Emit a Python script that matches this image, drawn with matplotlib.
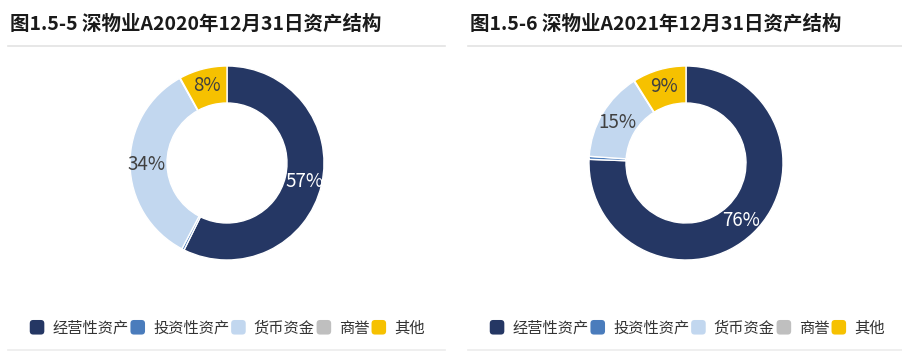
import numpy as np
import matplotlib.pyplot as plt
from matplotlib.patches import FancyBboxPatch
from matplotlib.lines import Line2D
from matplotlib.legend_handler import HandlerPatch

plt.rcParams['font.family'] = ['Noto Sans CJK SC', 'DejaVu Sans']

# data
categories = ['经营性资产', '投资性资产', '货币资金', '商誉', '其他']
colors = ['#253764', '#4a7cbc', '#c2d7ef', '#bfbfbf', '#f6c100']
values_2020 = [57.3, 0.4, 34.2, 0.1, 8.0]
values_2021 = [75.6, 0.5, 14.9, 0.1, 8.9]
titles = ['图1.5-5 深物业A2020年12月31日资产结构', '图1.5-6 深物业A2021年12月31日资产结构']

W, H = 902, 352
fig = plt.figure(figsize=(W / 100, H / 100), dpi=100)

def px_axes(x0, y0, w, h):
    # pixel box (top-left origin) -> figure axes
    return fig.add_axes([x0 / W, 1 - (y0 + h) / H, w / W, h / H])

class RoundBox(HandlerPatch):
    def create_artists(self, legend, orig, xd, yd, width, height, fontsize, trans):
        s = 10.5  # points, ~14px
        p = FancyBboxPatch((-xd + (width - s) / 2, -yd + (height - s) / 2), s, s,
                           boxstyle='round,pad=0,rounding_size=2.5',
                           facecolor=orig.get_facecolor(), edgecolor='none', transform=trans)
        return [p]

panels = [(0, 227, values_2020), (460, 686, values_2021)]

for (px, cx, vals), title in zip(panels, titles):
    ax = px_axes(cx - 100, 163 - 100, 200, 200)
    wedges, _ = ax.pie(vals, colors=colors, startangle=90, counterclock=False,
                       radius=0.97, wedgeprops=dict(width=0.37, edgecolor='white', linewidth=1))
    ax.set_xlim(-1, 1)
    ax.set_ylim(-1, 1)
    ax.set_aspect('equal')
    ax.axis('off')
    total = sum(vals)
    cum = 0
    for v, c in zip(vals, colors):
        mid = (cum + v / 2) / total * 2 * np.pi
        cum += v
        if v < 1:
            continue
        r = 0.80
        tc = 'white' if c == '#253764' else '#404040'
        ax.text(r * np.sin(mid), r * np.cos(mid), f'{round(v / total * 100)}%',
                ha='center', va='center', fontsize=13.5, color=tc)

    fig.text((px + 10) / W, 1 - 24 / H, title, ha='left', va='center',
             fontsize=14, fontweight='bold', color='#1a1a1a')
    fig.add_artist(Line2D([(px + 8) / W, (px + 445) / W], [1 - 46 / H, 1 - 46 / H],
                          color='#e3e3e3', linewidth=1.2))
    fig.add_artist(Line2D([(px + 8) / W, (px + 445) / W], [1 - 350 / H, 1 - 350 / H],
                          color='#ececec', linewidth=1.2))

    handles = [plt.Rectangle((0, 0), 1, 1, facecolor=c) for c in colors]
    fig.legend(handles, categories, loc='center', ncol=5, frameon=False,
               bbox_to_anchor=((px + 227) / W, 1 - 328 / H), fontsize=11,
               handlelength=1.0, handleheight=1.0, handletextpad=0.5,
               columnspacing=0.1, labelcolor='#333333',
               handler_map={plt.Rectangle: RoundBox()})

fig.savefig('out.png', dpi=100)
